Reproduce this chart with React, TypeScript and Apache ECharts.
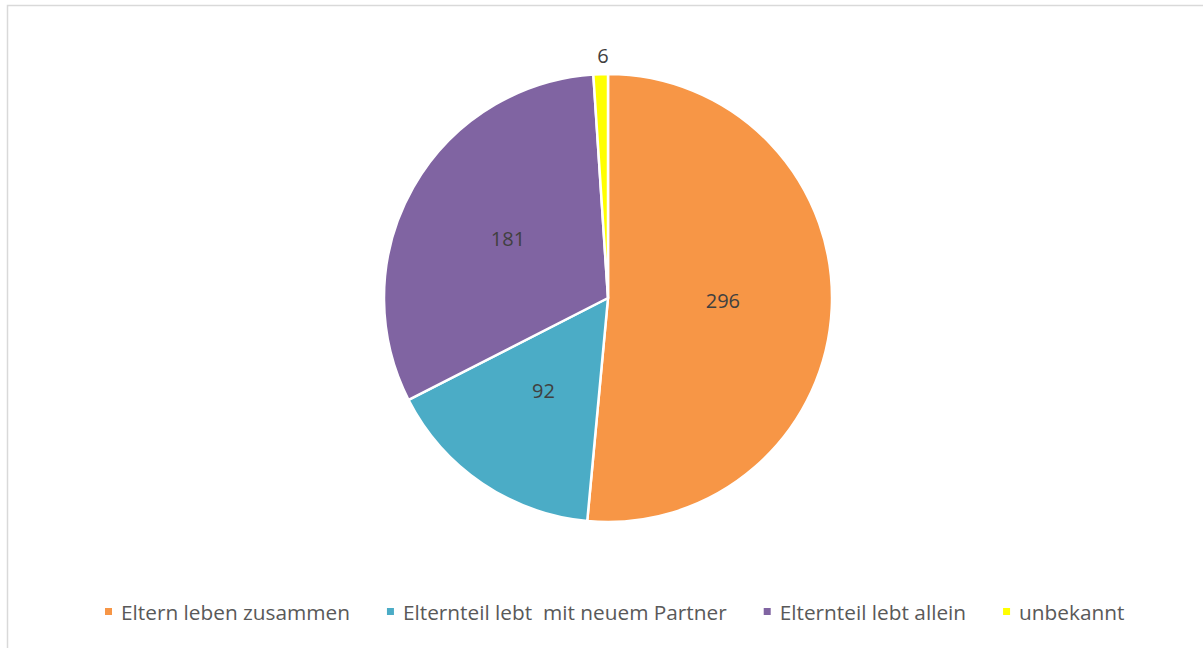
import React, { useEffect, useRef } from "react";
import * as echarts from "echarts";

const categories = [
  "Eltern leben zusammen",
  "Elternteil lebt  mit neuem Partner",
  "Elternteil lebt allein",
  "unbekannt",
];
const values = [296, 92, 181, 6];
const colors = ["#F79646", "#4BACC6", "#8064A2", "#FFFF00"];

export default function App() {
  const ref = useRef<HTMLDivElement>(null);
  useEffect(() => {
    const chart = echarts.init(ref.current!, null, { renderer: "svg" });
    const font = "'Open Sans', 'Liberation Sans', sans-serif";
    chart.setOption({
      animation: false,
      backgroundColor: "#ffffff",
      graphic: [
        {
          type: "rect",
          shape: { x: 7.5, y: 5.5, width: 1300, height: 700 },
          style: { fill: "none", stroke: "#D9D9D9", lineWidth: 1.5 },
          silent: true,
        },
      ],
      legend: {
        data: categories,
        left: 98,
        top: 596,
        itemWidth: 9,
        itemHeight: 9,
        itemGap: 35,
        icon: "rect",
        textStyle: {
          fontFamily: font,
          fontSize: 20.8,
          lineHeight: 21,
          color: "#595959",
          padding: [0, 0, 0, 3],
        },
      },
      series: [
        {
          type: "pie",
          center: [608, 298],
          radius: [0, 224],
          startAngle: 90,
          clockwise: true,
          data: categories.map((name, i) => ({
            name,
            value: values[i],
            itemStyle: { color: colors[i] },
            label: i === 3 ? { position: "outside", distanceToLabelLine: 0 } : undefined,
            labelLine: i === 3 ? { show: false, length: 19, length2: 0 } : undefined,
          })),
          itemStyle: { borderColor: "#ffffff", borderWidth: 2.5 },
          label: {
            show: true,
            position: "inside",
            formatter: "{c}",
            fontFamily: font,
            fontSize: 20,
            color: "#404040",
          },
          labelLayout: (params: any) =>
            params.dataIndex === 3
              ? { align: "center", verticalAlign: "middle", dx: 3 }
              : { dy: -3 },
          emphasis: { disabled: true },
        },
      ],
    });
    return () => chart.dispose();
  }, []);
  return (
    <div
      ref={ref}
      style={{ position: "absolute", left: 0, top: 0, width: 1203, height: 648 }}
    />
  );
}
